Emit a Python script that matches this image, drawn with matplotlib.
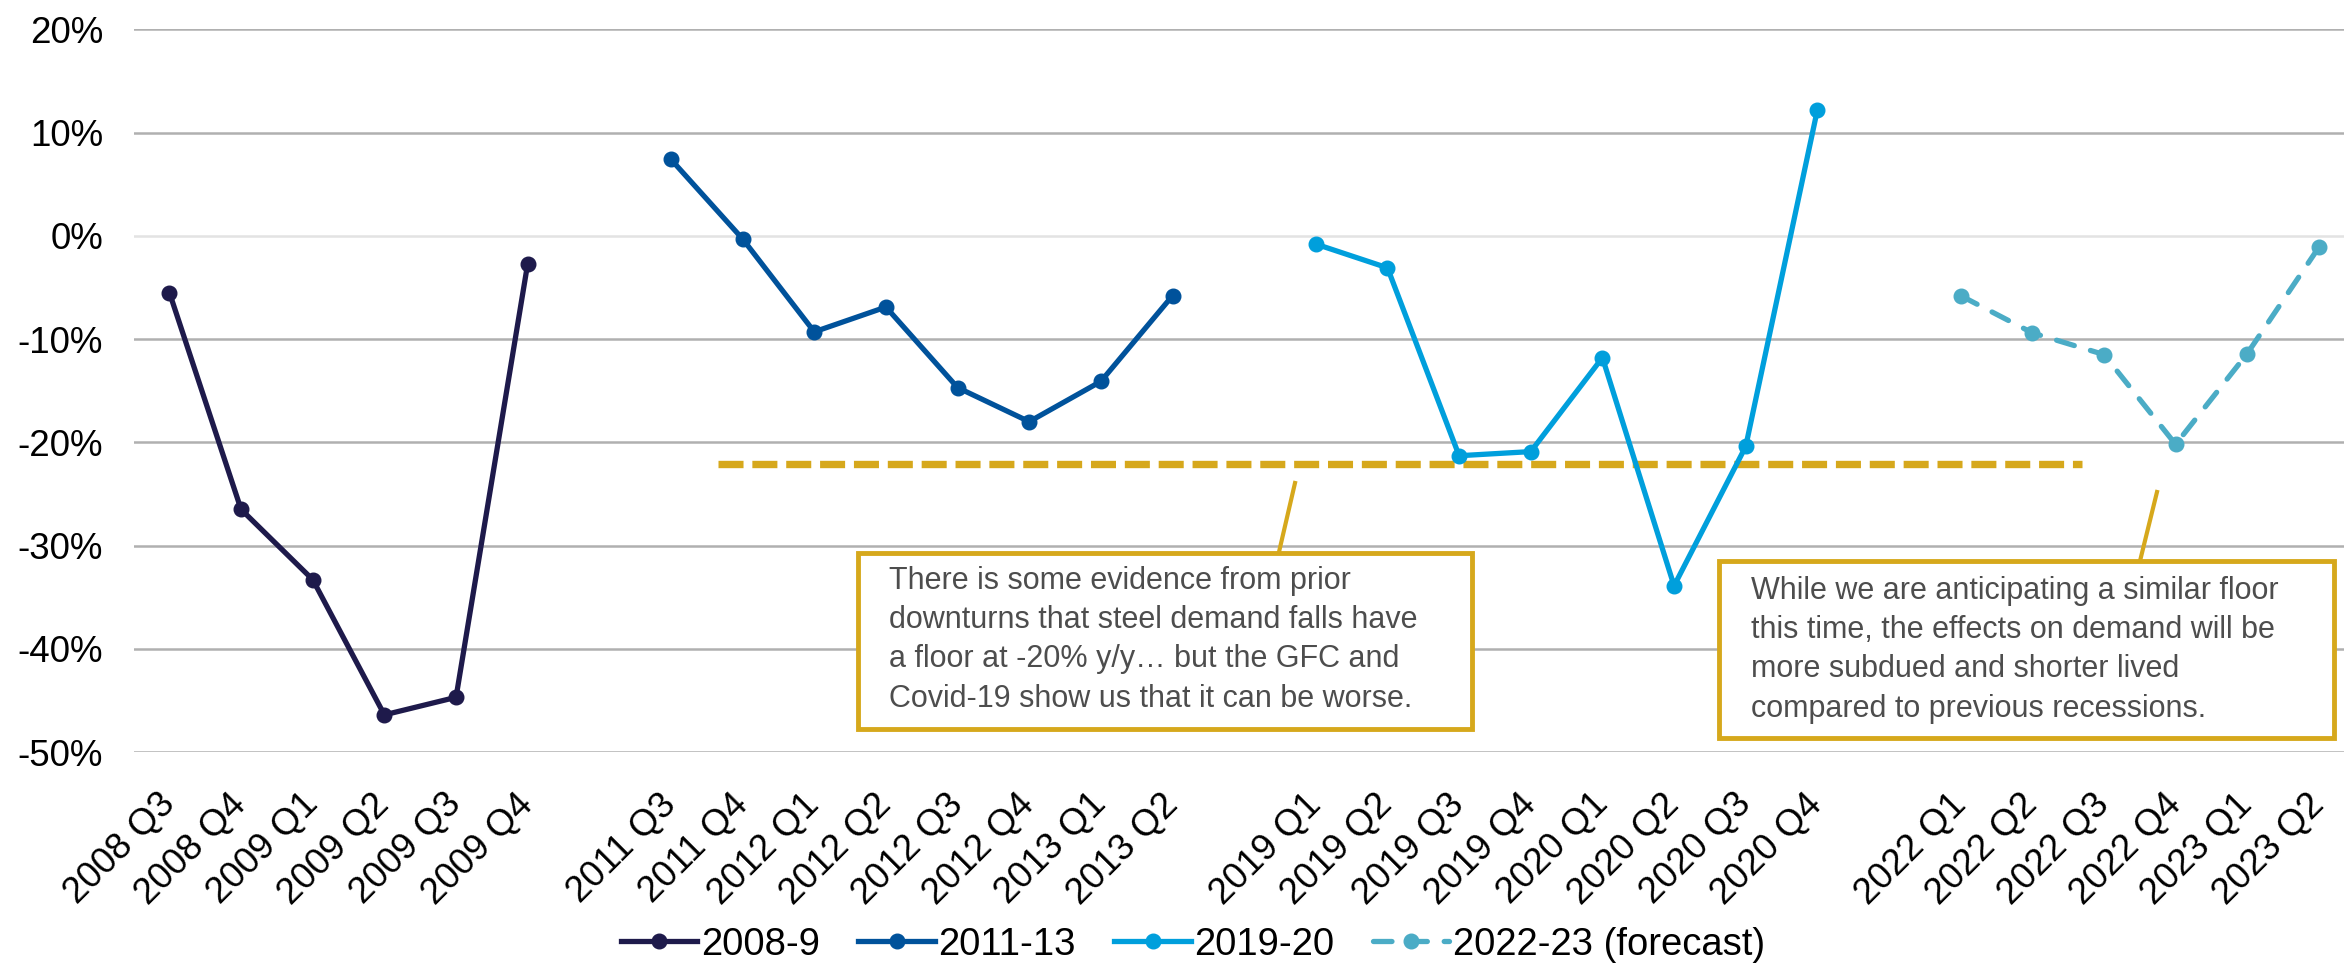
import numpy as np
import matplotlib.pyplot as plt
from matplotlib.patches import Rectangle
from matplotlib.lines import Line2D

plt.rcParams['font.family'] = ['Liberation Sans', 'DejaVu Sans']

# quarters and y/y change in steel demand (%) for each downturn
q_0809 = ['2008 Q3', '2008 Q4', '2009 Q1', '2009 Q2', '2009 Q3', '2009 Q4']
v_0809 = [-5.5, -26.5, -33.3, -46.4, -44.7, -2.7]

q_1113 = ['2011 Q3', '2011 Q4', '2012 Q1', '2012 Q2', '2012 Q3', '2012 Q4', '2013 Q1', '2013 Q2']
v_1113 = [7.4, -0.3, -9.3, -6.9, -14.7, -18.0, -14.1, -5.8]

q_1920 = ['2019 Q1', '2019 Q2', '2019 Q3', '2019 Q4', '2020 Q1', '2020 Q2', '2020 Q3', '2020 Q4']
v_1920 = [-0.8, -3.1, -21.3, -20.9, -11.8, -33.9, -20.4, 12.2]

q_2223 = ['2022 Q1', '2022 Q2', '2022 Q3', '2022 Q4', '2023 Q1', '2023 Q2']
v_2223 = [-5.8, -9.4, -11.5, -20.2, -11.4, -1.1]

series_names = ['2008-9', '2011-13', '2019-20', '2022-23 (forecast)']
floor_level = -22.1  # the "floor" line

colors = ['#1E1A4B', '#00529B', '#009FDC', '#4BACC6']
gold = '#D6A81C'

fig = plt.figure(figsize=(23.44, 9.68), dpi=100)
ax = fig.add_axes([0.057, 0.2231, 0.943, 0.7466])

# categorical positions with one empty slot between the episodes
groups = [(q_0809, v_0809), (q_1113, v_1113), (q_1920, v_1920), (q_2223, v_2223)]
xs_all, labels_all = [], []
start = 0
handles = []
for i, (qs, vs) in enumerate(groups):
    x = np.arange(start, start + len(qs))
    xs_all.extend(x)
    labels_all.extend(qs)
    line, = ax.plot(x, np.array(vs) / 100, color=colors[i], lw=3.8, marker='o', ms=10.5,
                    zorder=3)
    if i == 3:  # forecast is dashed
        line.set_dashes((3.5, 3.2))
        line.set_dash_capstyle('round')
    handles.append(line)
    start += len(qs) + 1

# floor line
ax.hlines(floor_level / 100, 7.65, 26.7, color=gold, lw=5.3,
          linestyles=(0, (3.4, 1.2)), zorder=2)

ax.set_xlim(-0.5, 30.35)
ax.set_ylim(-0.5, 0.2)
yt = np.arange(-5, 3) * 10
ax.set_yticks(yt / 100)
ax.set_yticklabels(['{}%'.format(v) for v in yt], fontsize=26.5)
ax.set_xticks(xs_all)
ax.set_xticklabels(labels_all, fontsize=26.5, rotation=45, ha='right', va='center',
                   rotation_mode='anchor')
ax.tick_params(length=0)
ax.tick_params(axis='x', pad=34)
ax.tick_params(axis='y', pad=22)
for s in ax.spines.values():
    s.set_visible(False)
for v in yt:
    c = '#E3E3E3' if v == 0 else '#B0B0B0'
    ax.axhline(v / 100, color=c, lw=1.8, zorder=1)

# annotation boxes (figure pixel layout)
W, H = 2344, 968


def box(x0, y0, x1, y1, text, tx, ty, conn):
    fig.add_artist(Rectangle((x0 / W, 1 - y1 / H), (x1 - x0) / W, (y1 - y0) / H,
                             transform=fig.transFigure, facecolor='white',
                             edgecolor=gold, lw=3.5, zorder=5))
    fig.text(tx / W, 1 - ty / H, text, fontsize=22, color='#4D4D4D', va='top',
             ha='left', linespacing=1.4, zorder=6)
    fig.add_artist(Line2D([conn[0] / W, conn[2] / W], [1 - conn[1] / H, 1 - conn[3] / H],
                          transform=fig.transFigure, color=gold, lw=3, zorder=4))


box(858, 553, 1472, 729,
    'There is some evidence from prior\ndownturns that steel demand falls have\n'
    'a floor at -20% y/y… but the GFC and\nCovid-19 show us that it can be worse.',
    889, 566, (1295, 483, 1279, 552))
box(1719, 561, 2334, 738,
    'While we are anticipating a similar floor\nthis time, the effects on demand will be\n'
    'more subdued and shorter lived\ncompared to previous recessions.',
    1751, 576, (2157, 492, 2140, 561))

fig.legend(handles, series_names, loc='center', bbox_to_anchor=(0.509, 0.024),
           ncol=4, frameon=False, fontsize=27.5, handlelength=2.0, handletextpad=0.1,
           columnspacing=1.0)

fig.savefig('out.png', dpi=100)
